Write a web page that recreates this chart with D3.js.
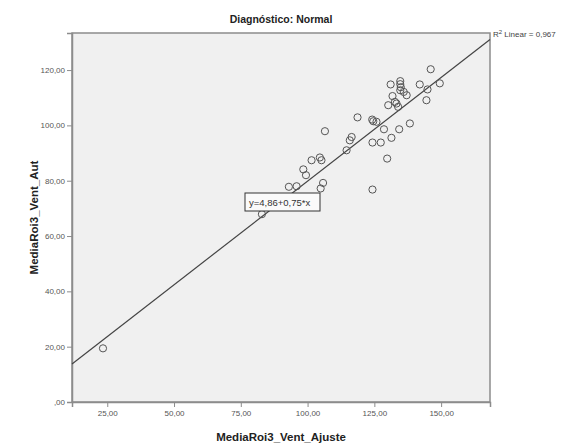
<!DOCTYPE html>
<html>
<head>
<meta charset="utf-8">
<script src="https://cdn.jsdelivr.net/npm/d3@7"></script>
<style>
  body { margin: 0; background: #fff; }
  svg { font-family: "Liberation Sans", Arial, sans-serif; }
</style>
</head>
<body>
<svg width="573" height="447"></svg>
<script>
// MediaRoi3_Vent_Ajuste (x) vs MediaRoi3_Vent_Aut (y)
const ajuste = [23.4, 146.1, 131.1, 134.7, 134.7, 134.9, 134.7, 142.0, 149.5, 144.9, 144.5,
  131.8, 132.7, 133.3, 130.2, 133.9, 136.0, 137.1, 118.7, 124.2, 124.6, 125.8, 128.6, 134.3,
  138.3, 131.4, 124.3, 127.4, 129.8, 106.5, 116.5, 115.8, 114.6, 101.5, 104.6, 105.2, 98.4,
  99.4, 105.8, 104.9, 124.3, 93.0, 95.9, 82.9];
const aut = [19.4, 120.3, 114.8, 116.0, 114.9, 113.8, 112.7, 114.8, 115.2, 113.0, 109.1,
  110.6, 108.5, 107.9, 107.3, 106.7, 112.1, 110.9, 102.9, 102.1, 101.5, 101.3, 98.6, 98.6,
  100.7, 95.5, 93.8, 93.8, 88.0, 97.9, 95.8, 94.6, 91.0, 87.4, 88.4, 87.4, 84.1, 82.0, 79.2,
  77.2, 76.8, 77.8, 78.0, 67.9];

const xTicks = [25, 50, 75, 100, 125, 150];
const yTicks = [0, 20, 40, 60, 80, 100, 120];
const fit = { a: 4.86, b: 0.75, r2: "0,967" };

const svg = d3.select("svg");
const mLeft = 72, mRight = 490, mTop = 33, mBottom = 402;

const x = d3.scaleLinear().domain([11.8, 168.3]).range([mLeft, mRight]);
const y = d3.scaleLinear().domain([0, 133.4]).range([mBottom, mTop]);

const fmt = v => v === 0 ? ",00" : d3.format(".2f")(v).replace(".", ",");

svg.append("rect")
  .attr("x", mLeft).attr("y", mTop)
  .attr("width", mRight - mLeft).attr("height", mBottom - mTop)
  .attr("fill", "#f0f0f0").attr("stroke", "#8c8c8c").attr("stroke-width", 1.5);

const xAxis = svg.append("g")
  .attr("transform", `translate(0,${mBottom})`)
  .call(d3.axisBottom(x).tickValues(xTicks).tickFormat(fmt).tickSize(5).tickPadding(3));
const yAxis = svg.append("g")
  .attr("transform", `translate(${mLeft},0)`)
  .call(d3.axisLeft(y).tickValues(yTicks).tickFormat(fmt).tickSize(5).tickPadding(2));

[xAxis, yAxis].forEach(g => {
  g.select(".domain").attr("stroke", "#8c8c8c").attr("stroke-width", 1.5);
  g.selectAll(".tick line").attr("stroke", "#8c8c8c");
  g.selectAll(".tick text").attr("fill", "#555").attr("font-size", 8);
});

// regression line
const x0 = 11.8, x1 = 168.3;
svg.append("line")
  .attr("x1", x(x0)).attr("y1", y(fit.a + fit.b * x0))
  .attr("x2", x(x1)).attr("y2", y(fit.a + fit.b * x1))
  .attr("stroke", "#444").attr("stroke-width", 1.2);

svg.append("g")
  .selectAll("circle")
  .data(ajuste.map((v, i) => [v, aut[i]]))
  .join("circle")
  .attr("cx", d => x(d[0]))
  .attr("cy", d => y(d[1]))
  .attr("r", 3.6)
  .attr("fill", "none")
  .attr("stroke", "#555")
  .attr("stroke-width", 1);

// equation label
const eq = svg.append("g").attr("transform", "translate(245,193)");
eq.append("rect").attr("width", 75).attr("height", 18)
  .attr("fill", "#fafafa").attr("stroke", "#333");
eq.append("text").attr("x", 4).attr("y", 13)
  .attr("font-size", 9.5).attr("fill", "#333")
  .text(`y=${fit.a.toFixed(2).replace(".", ",")}+${fit.b.toFixed(2).replace(".", ",")}*x`);

svg.append("text")
  .attr("x", 493).attr("y", 37)
  .attr("font-size", 8).attr("fill", "#444")
  .html(`R<tspan dy="-3" font-size="6">2</tspan><tspan dy="3"> Linear = ${fit.r2}</tspan>`);

svg.append("text")
  .attr("x", (mLeft + mRight) / 2).attr("y", 23)
  .attr("text-anchor", "middle").attr("font-size", 10.5).attr("font-weight", "bold")
  .attr("fill", "#222")
  .text("Diagnóstico: Normal");

svg.append("text")
  .attr("x", (mLeft + mRight) / 2).attr("y", 441)
  .attr("text-anchor", "middle").attr("font-size", 11.5).attr("font-weight", "bold")
  .attr("fill", "#222")
  .text("MediaRoi3_Vent_Ajuste");

svg.append("text")
  .attr("transform", `translate(38,${(mTop + mBottom) / 2}) rotate(-90)`)
  .attr("text-anchor", "middle").attr("font-size", 11.5).attr("font-weight", "bold")
  .attr("fill", "#222")
  .text("MediaRoi3_Vent_Aut");
</script>
</body>
</html>
